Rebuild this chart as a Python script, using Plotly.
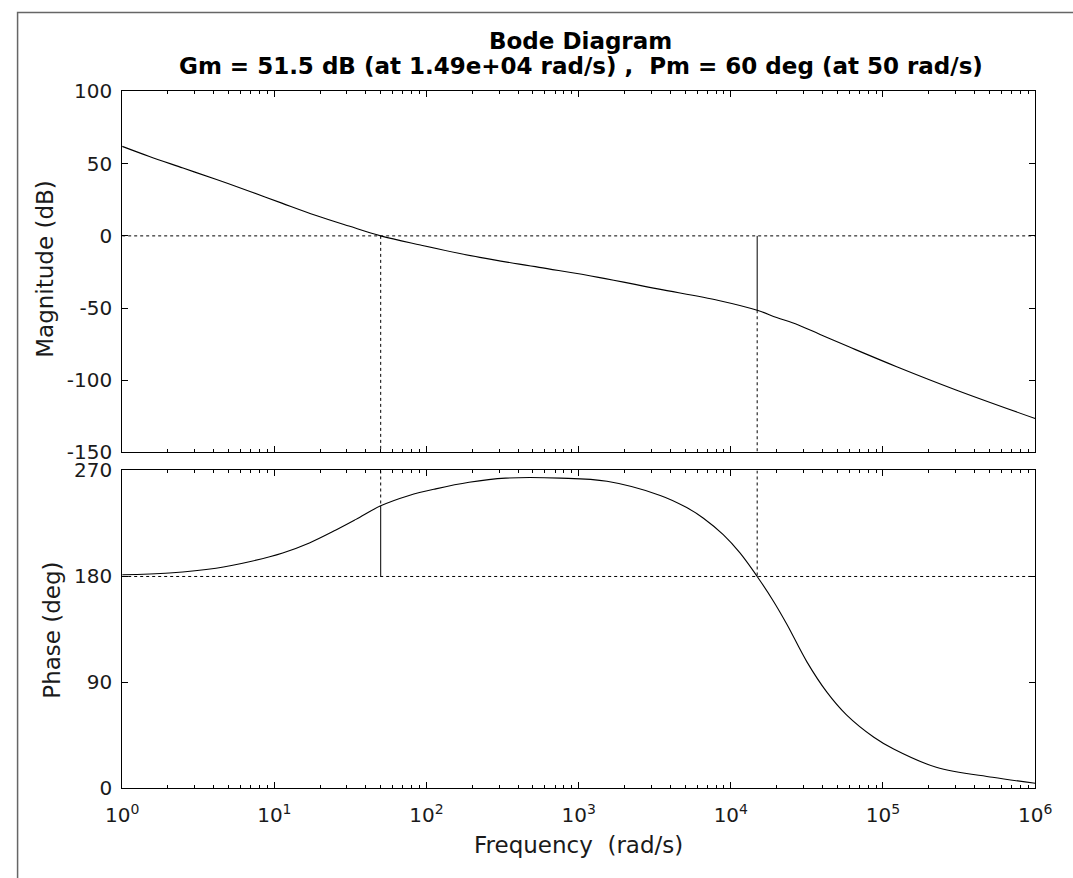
import plotly.graph_objects as go

# ---------------- data ----------------
mag_freq = [1, 1.51, 2.51, 4.17, 6.92, 11.2, 18.6, 30.9, 50, 91.2, 224, 550,
            1349, 3311, 8318, 14900, 20000, 27542, 40000, 60256, 123027, 301995, 1000000]
mag_db = [62, 55, 47, 39, 30.8, 22.7, 14.3, 6.8, 0, -6.3, -14.9, -21.8,
          -28.7, -36.7, -44.7, -51.5, -56.5, -61.5, -69.0, -77.0, -90.6, -106.7, -126.5]

phase_freq = [1, 2.04, 4.14, 6.85, 11.35, 17, 25.4, 34.4, 50, 76.9, 115, 190.5,
              331, 759, 1535, 3436, 5129, 6607, 8913, 11482, 14900, 19055, 23442,
              31623, 42658, 57544, 87096, 117490, 223872, 524807, 1000000]
phase_deg = [181.5, 183, 187, 192.5, 200, 208.5, 219.5, 228.5, 240, 248.8, 254.4, 260,
             263.5, 263.5, 260.8, 248.8, 238.5, 229.5, 215.5, 200, 180, 159, 139,
             107.5, 82, 62.5, 43.5, 33.5, 18, 9.5, 4.5]

gm_db = 51.5          # gain margin
wg = 14900            # phase-crossover frequency (rad/s)
pm_deg = 60           # phase margin
wc = 50               # gain-crossover frequency (rad/s)

mag_ticks = [-150, -100, -50, 0, 50, 100]
mag_ticktext = ["-150", "-100", "-50", "0", "50", "100"]
phase_ticks = [0, 90, 180, 270]
phase_ticktext = ["0", "90", "180", "270"]
freq_ticks = [1, 10, 100, 1000, 10000, 100000, 1000000]
freq_ticktext = ["10<sup>%d</sup>" % i for i in range(7)]

title_line1 = "Bode Diagram"
title_line2 = "Gm = 51.5 dB (at 1.49e+04 rad/s) ,  Pm = 60 deg (at 50 rad/s)"

# ---------------- layout helpers ----------------
W, H = 1073, 878
# calibration of figure pixels to the photographed page
SX, AX = 0.9694, 15.7
SY, AY = 0.9727, 11.5
def fx(p):
    return ((p - AX) / SX) / W
def fy(p):
    return 1 - ((p - AY) / SY) / H

FONT = "DejaVu Sans"
INK = "#1a1a1a"

fig = go.Figure()

line_style = dict(color="black", width=1.1, shape="spline", smoothing=1)
fig.add_trace(go.Scatter(x=mag_freq, y=mag_db, mode="lines", line=line_style,
                         xaxis="x", yaxis="y", hoverinfo="skip"))
fig.add_trace(go.Scatter(x=phase_freq, y=phase_deg, mode="lines", line=line_style,
                         xaxis="x2", yaxis="y2", hoverinfo="skip"))

dot = dict(color="black", width=1, dash="dot")
solid = dict(color="black", width=1)
# magnitude panel: 0 dB line, crossover markers
fig.add_trace(go.Scatter(x=[1, 1000000], y=[0, 0], mode="lines", line=dot,
                         xaxis="x", yaxis="y", hoverinfo="skip"))
fig.add_trace(go.Scatter(x=[wc, wc], y=[0, -150], mode="lines", line=dot,
                         xaxis="x", yaxis="y", hoverinfo="skip"))
fig.add_trace(go.Scatter(x=[wg, wg], y=[-gm_db, -150], mode="lines", line=dot,
                         xaxis="x", yaxis="y", hoverinfo="skip"))
fig.add_trace(go.Scatter(x=[wg, wg], y=[0, -gm_db], mode="lines", line=solid,
                         xaxis="x", yaxis="y", hoverinfo="skip"))
# phase panel: 180 deg line, crossover markers
fig.add_trace(go.Scatter(x=[1, 1000000], y=[180, 180], mode="lines", line=dot,
                         xaxis="x2", yaxis="y2", hoverinfo="skip"))
fig.add_trace(go.Scatter(x=[wc, wc], y=[270, 180 + pm_deg], mode="lines", line=dot,
                         xaxis="x2", yaxis="y2", hoverinfo="skip"))
fig.add_trace(go.Scatter(x=[wc, wc], y=[180 + pm_deg, 180], mode="lines", line=solid,
                         xaxis="x2", yaxis="y2", hoverinfo="skip"))
fig.add_trace(go.Scatter(x=[wg, wg], y=[270, 180], mode="lines", line=dot,
                         xaxis="x2", yaxis="y2", hoverinfo="skip"))

xdom = [fx(121), fx(1035)]
top_dom = [fy(452), fy(91)]
bot_dom = [fy(788), fy(470)]

common_x = dict(type="log", range=[0, 6], domain=xdom, showgrid=False, zeroline=False,
                showline=True, linecolor="black", linewidth=1, mirror="ticks",
                ticks="inside", ticklen=6, tickcolor="black", tickwidth=1,
                tickvals=freq_ticks, ticktext=freq_ticktext, ticklabelstandoff=9,
                minor=dict(ticks="inside", ticklen=3, tickcolor="black", dtick="D1",
                           showgrid=False),
                tickfont=dict(family=FONT, size=20, color=INK))
common_y = dict(showgrid=False, zeroline=False, showline=True, linecolor="black",
                linewidth=1, mirror="ticks", ticks="inside", ticklen=6,
                tickcolor="black", tickwidth=1, ticklabelstandoff=5,
                tickfont=dict(family=FONT, size=20, color=INK))

fig.update_layout(
    width=W, height=H,
    margin=dict(l=0, r=0, t=0, b=0),
    paper_bgcolor="white", plot_bgcolor="white",
    showlegend=False,
    xaxis=dict(common_x, anchor="y", showticklabels=False),
    yaxis=dict(common_y, domain=top_dom, range=[-150, 100], tickvals=mag_ticks,
               ticktext=mag_ticktext, anchor="x"),
    xaxis2=dict(common_x, anchor="y2", matches="x", showticklabels=True),
    yaxis2=dict(common_y, domain=bot_dom, range=[0, 270], tickvals=phase_ticks,
                ticktext=phase_ticktext, anchor="x2"),
)

ann = [
    dict(text="<b>%s</b>" % title_line1, x=fx(580), y=fy(41), xref="paper", yref="paper",
         showarrow=False, xanchor="center", yanchor="middle",
         font=dict(family=FONT, size=23, color="black")),
    dict(text="<b>%s</b>" % title_line2, x=fx(580), y=fy(66), xref="paper", yref="paper",
         showarrow=False, xanchor="center", yanchor="middle",
         font=dict(family=FONT, size=23, color="black")),
    dict(text="Magnitude (dB)", x=fx(44), y=fy(268), xref="paper", yref="paper",
         showarrow=False, textangle=-90, xanchor="center", yanchor="middle",
         font=dict(family=FONT, size=23, color=INK)),
    dict(text="Phase (deg)", x=fx(51), y=fy(630), xref="paper", yref="paper",
         showarrow=False, textangle=-90, xanchor="center", yanchor="middle",
         font=dict(family=FONT, size=23, color=INK)),
    dict(text="Frequency  (rad/s)", x=fx(578), y=fy(845), xref="paper", yref="paper",
         showarrow=False, xanchor="center", yanchor="middle",
         font=dict(family=FONT, size=23, color=INK)),
]
fig.update_layout(annotations=ann)

# outer frame (only left and top edges fall inside the picture)
fig.add_shape(type="rect", xref="paper", yref="paper", x0=0.6 / W, y0=-0.1,
              x1=1.1, y1=1 - 0.6 / H, line=dict(color="#666666", width=1.5))

fig.write_html(
    "out.html",
    post_script="document.body.style.margin='0px';document.body.style.overflow='hidden';",
)
